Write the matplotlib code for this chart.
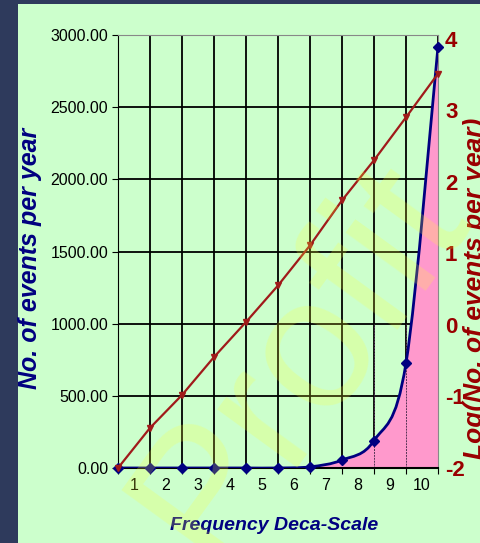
import numpy as np
import matplotlib
matplotlib.use("Agg")
import matplotlib.pyplot as plt
from matplotlib.path import Path
from matplotlib.patches import PathPatch

# data
x_pos = [0, 1, 2, 3, 4, 5, 6, 7, 8, 9, 10]
events = [0, 0, 0, 0, 0, 0, 8, 55, 190, 727, 2920]
log_events = [-2.0, -1.44, -0.98, -0.45, 0.04, 0.55, 1.11, 1.74, 2.30, 2.90, 3.51]
tick_labels = ['1', '2', '3', '4', '5', '6', '7', '8', '9', '10']
left_ticks = [0, 500, 1000, 1500, 2000, 2500, 3000]
right_ticks = [-2, -1, 0, 1, 2, 3, 4]

NAVY = '#2e3a5c'
GREEN = '#ccffcc'
BLUE = '#000080'
RED = '#a01a1a'
PINK = '#ff99cc'


def smooth_path(xs, ys):
    # bezier segments through the points, like a smoothed excel line
    xs = np.asarray(xs, float)
    ys = np.asarray(ys, float)
    n = len(xs)
    verts = [(xs[0], ys[0])]
    codes = [Path.MOVETO]
    for i in range(n - 1):
        i0 = max(i - 1, 0)
        i3 = min(i + 2, n - 1)
        c1 = (xs[i] + (xs[i + 1] - xs[i0]) / 6, ys[i] + (ys[i + 1] - ys[i0]) / 6)
        c2 = (xs[i + 1] - (xs[i3] - xs[i]) / 6, ys[i + 1] - (ys[i3] - ys[i]) / 6)
        verts += [c1, c2, (xs[i + 1], ys[i + 1])]
        codes += [Path.CURVE4] * 3
    return verts, codes


fig = plt.figure(figsize=(4.8, 5.43), dpi=100)
fig.patch.set_facecolor(NAVY)
panel = plt.Rectangle((18 / 480, 0), 1, 1 - 4 / 543, transform=fig.transFigure,
                      facecolor=GREEN, edgecolor='none', zorder=0)
fig.patches.append(panel)

pos = [118 / 480, 1 - 468 / 543, 320 / 480, 433 / 543]

# secondary scale (right), sits behind the main axes
ax2 = fig.add_axes(pos, zorder=1)
ax2.set_facecolor(GREEN)
ax2.set_xlim(0, 10)
ax2.set_ylim(-2, 4.05)
ax2.yaxis.tick_right()
ax2.set_yticks(right_ticks)
ax2.set_yticklabels(['%d' % v for v in right_ticks])
ax2.set_xticks([])
ax2.tick_params(axis='y', length=0, labelsize=16, labelcolor='#990000', pad=5)
for lab in ax2.get_yticklabels():
    lab.set_fontweight('bold')
    lab.set_fontfamily('Liberation Sans')
for s in ax2.spines.values():
    s.set_visible(False)

ax = fig.add_axes(pos, zorder=2)
ax.patch.set_visible(False)
ax.set_xlim(0, 10)
ax.set_ylim(0, 3000)
ax.set_xticks(x_pos)
ax.set_xticklabels([])
ax.set_xticks(np.array(x_pos[:-1]) + 0.5, minor=True)
ax.set_xticklabels(tick_labels, minor=True)
ax.tick_params(axis='x', which='minor', length=0, pad=7, labelsize=11.5)
ax.tick_params(axis='x', which='major', length=4, direction='out', color='black')
ax.set_yticks(left_ticks)
ax.set_yticklabels(['%.2f' % v for v in left_ticks])
ax.tick_params(axis='y', length=4, direction='out', labelsize=11.5, pad=3)
for lab in ax.get_yticklabels():
    lab.set_fontfamily('Liberation Sans')
for lab in ax.get_xticklabels(minor=True):
    lab.set_fontfamily('Liberation Sans')
ax.xaxis.grid(True, which='major', color='black', linewidth=1.3)
ax.yaxis.grid(True, which='major', color='black', linewidth=1.3)
ax.set_axisbelow(True)

ax.spines['top'].set_color('#888888')
ax.spines['right'].set_color('#888888')
ax.spines['left'].set_color('black')
ax.spines['bottom'].set_color('black')
ax.spines['bottom'].set_linewidth(1.5)

verts, codes = smooth_path(x_pos, events)
fill_verts = verts + [(x_pos[-1], 0), (x_pos[0], 0), verts[0]]
fill_codes = codes + [Path.LINETO, Path.LINETO, Path.CLOSEPOLY]
ax.add_patch(PathPatch(Path(fill_verts, fill_codes), facecolor=PINK,
                       edgecolor='none', zorder=2))
for xv in [8, 9]:
    ax.plot([xv, xv], [0, 1000], color='#553355', linewidth=0.7,
            linestyle=(0, (2, 1)), zorder=2.5)
ax.add_patch(PathPatch(Path(verts, codes), facecolor='none', edgecolor=BLUE,
                       linewidth=2, zorder=4))
ax.plot(x_pos, events, linestyle='none', marker='D', markersize=5.5,
        color=BLUE, zorder=5, clip_on=False)

# red line on the secondary scale, drawn over the grid
red_ax = fig.add_axes(pos, zorder=3)
red_ax.patch.set_visible(False)
red_ax.set_xlim(0, 10)
red_ax.set_ylim(-2, 4.05)
red_ax.axis('off')
red_ax.plot(x_pos, log_events, color=RED, linewidth=1.6, marker='v',
            markersize=4.5, clip_on=False)

fig.text(30 / 480, 1 - 258 / 543, 'No. of events per year', rotation=90,
         ha='center', va='center', color=BLUE, fontsize=18,
         fontweight='bold', fontstyle='italic', family='Liberation Sans')
fig.text(475 / 480, 1 - 288 / 543, 'Log(No. of events per year)', rotation=90,
         ha='center', va='center', color='#990000', fontsize=19,
         fontweight='bold', fontstyle='italic', family='Liberation Sans')
fig.text(274 / 480, 1 - 526 / 543, 'Frequency Deca-Scale', ha='center',
         va='center', color=BLUE, fontsize=14,
         fontweight='bold', fontstyle='italic', family='Liberation Sans')

# watermark
fig.text(300 / 480, 1 - 360 / 543, 'Profit', rotation=54, ha='center',
         va='center', color='#ffff33', alpha=0.22, fontsize=135,
         family='Liberation Sans', zorder=10)

fig.savefig('out.png', dpi=100, facecolor=fig.get_facecolor())
